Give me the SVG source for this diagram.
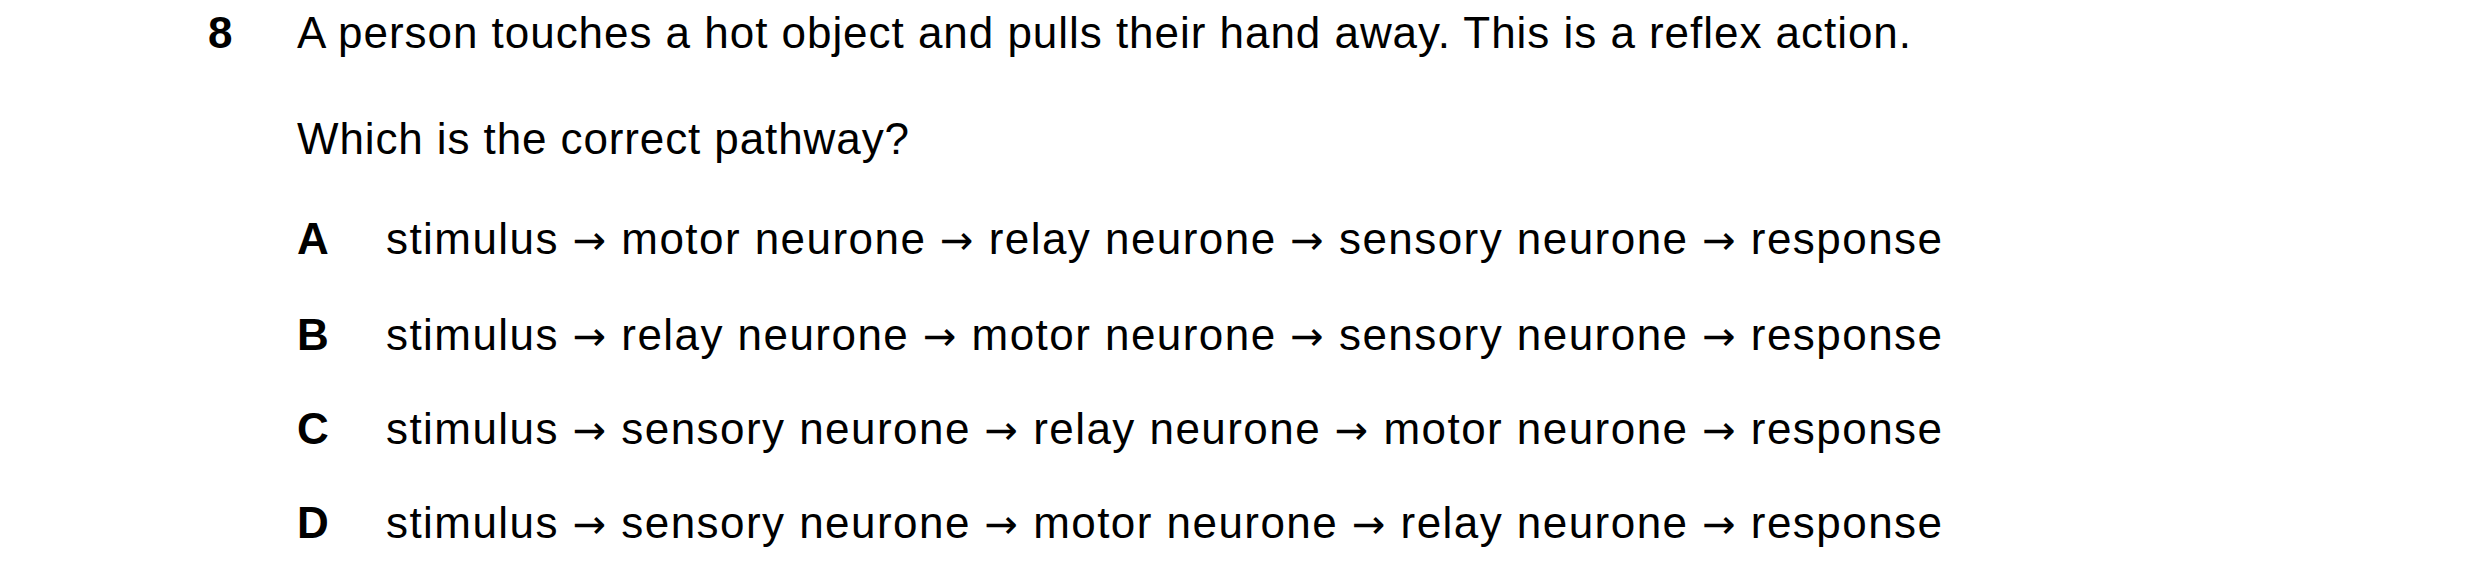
<svg xmlns="http://www.w3.org/2000/svg" width="2480" height="583" viewBox="0 0 2480 583">
<style>
text{font-family:"Liberation Sans",Arial,sans-serif;font-size:44px;fill:#000}
.b{font-weight:bold}
.ar{font-family:"DejaVu Sans",sans-serif;font-size:40px}
</style>
<rect width="2480" height="583" fill="#fff"/>
<g id="question">
<text class="b" x="208" y="48">8</text>
<text x="297" y="48" textLength="1614" lengthAdjust="spacing">A person touches a hot object and pulls their hand away. This is a reflex action.</text>
<text x="297" y="154" textLength="612" lengthAdjust="spacing">Which is the correct pathway?</text>
</g>
<g id="optA"><text class="b" x="297" y="254">A</text><text x="386" y="254" textLength="1556" lengthAdjust="spacing">stimulus <tspan class="ar">→</tspan> motor neurone <tspan class="ar">→</tspan> relay neurone <tspan class="ar">→</tspan> sensory neurone <tspan class="ar">→</tspan> response</text></g>
<g id="optB"><text class="b" x="297" y="350">B</text><text x="386" y="350" textLength="1556" lengthAdjust="spacing">stimulus <tspan class="ar">→</tspan> relay neurone <tspan class="ar">→</tspan> motor neurone <tspan class="ar">→</tspan> sensory neurone <tspan class="ar">→</tspan> response</text></g>
<g id="optC"><text class="b" x="297" y="444">C</text><text x="386" y="444" textLength="1556" lengthAdjust="spacing">stimulus <tspan class="ar">→</tspan> sensory neurone <tspan class="ar">→</tspan> relay neurone <tspan class="ar">→</tspan> motor neurone <tspan class="ar">→</tspan> response</text></g>
<g id="optD"><text class="b" x="297" y="538">D</text><text x="386" y="538" textLength="1556" lengthAdjust="spacing">stimulus <tspan class="ar">→</tspan> sensory neurone <tspan class="ar">→</tspan> motor neurone <tspan class="ar">→</tspan> relay neurone <tspan class="ar">→</tspan> response</text></g>
<g id="connectors"/>
</svg>
